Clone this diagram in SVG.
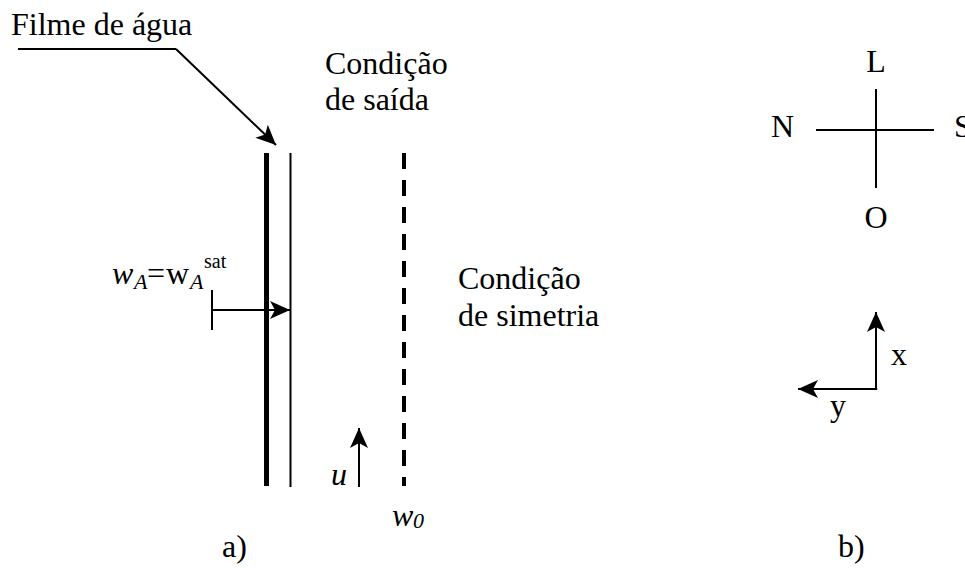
<svg xmlns="http://www.w3.org/2000/svg" width="965" height="568" viewBox="0 0 965 568">
<style>
text{font-family:"Liberation Serif",Tinos,"Times New Roman","DejaVu Serif",serif;font-size:32px;fill:#000}
.it{font-style:italic}
.sub{font-size:22px}
.ln{stroke:#000;stroke-width:2;fill:none}
</style>
<defs>
<marker id="ah" markerUnits="userSpaceOnUse" markerWidth="20" markerHeight="20" viewBox="0 0 20 20" refX="20" refY="10" orient="auto">
<path d="M20,10 L0,1 L5,10 L0,19 z" fill="#000"/>
</marker>
</defs>
<rect width="965" height="568" fill="#fff"/>

<g id="wall"><line x1="266.5" y1="153" x2="266.5" y2="486" stroke="#000" stroke-width="5"/></g>
<g id="film"><line x1="290.5" y1="153" x2="290.5" y2="487" stroke="#000" stroke-width="2"/></g>
<g id="symmetry-line"><line x1="404" y1="153" x2="404" y2="486" stroke="#000" stroke-width="4" stroke-dasharray="16 11"/></g>

<g id="label-filme"><text x="11" y="35">Filme de água</text></g>
<g id="label-saida"><text x="325" y="74">Condição</text><text x="325" y="110">de saída</text></g>
<g id="label-simetria"><text x="458" y="289">Condição</text><text x="458" y="326">de simetria</text></g>
<g id="label-wA">
<text x="112" y="284" class="it">w</text>
<text x="134" y="289" class="it sub">A</text>
<text x="147" y="284">=</text>
<text x="166" y="284">w</text>
<text x="190" y="289" class="it sub">A</text>
<text x="204" y="268" style="font-size:20px">sat</text>
</g>
<g id="label-u"><text x="331" y="485" class="it">u</text></g>
<g id="label-w0"><text x="392" y="526" class="it">w</text><text x="413" y="528" class="it sub">0</text></g>
<g id="label-a"><text x="222" y="557">a)</text></g>
<g id="label-b"><text x="838" y="557">b)</text></g>

<g id="compass">
<line class="ln" x1="876" y1="89" x2="876" y2="188"/>
<line class="ln" x1="816" y1="130" x2="934" y2="130"/>
<text x="876" y="72" text-anchor="middle">L</text>
<text x="771" y="137">N</text>
<text x="954" y="137">S</text>
<text x="876" y="228" text-anchor="middle">O</text>
</g>
<g id="axes-labels">
<text x="891" y="365">x</text>
<text x="830" y="416">y</text>
</g>

<g id="connectors">
<line class="ln" x1="18" y1="49" x2="176" y2="49"/>
<line class="ln" x1="176" y1="49" x2="276" y2="145" marker-end="url(#ah)"/>
<line class="ln" x1="212" y1="290" x2="212" y2="330"/>
<line class="ln" x1="212" y1="310" x2="290" y2="310" marker-end="url(#ah)"/>
<line class="ln" x1="359" y1="487" x2="359" y2="428" marker-end="url(#ah)"/>
<line class="ln" x1="876" y1="389" x2="876" y2="312" stroke-width="2.5" marker-end="url(#ah)"/>
<line class="ln" x1="877.25" y1="389" x2="798" y2="389" stroke-width="2.5" marker-end="url(#ah)"/>
</g>
</svg>
